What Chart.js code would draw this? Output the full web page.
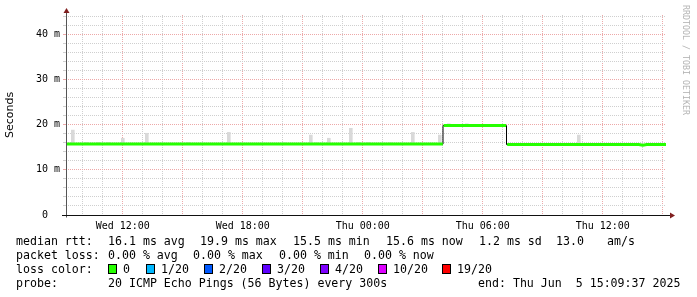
<!DOCTYPE html>
<html><head><meta charset="utf-8">
<script src="https://cdn.jsdelivr.net/npm/chart.js@4"></script>
<style>
html,body{margin:0;padding:0;background:#fff;}
#wrap{position:relative;width:697px;height:297px;overflow:hidden;background:#fff;}
canvas{position:absolute;left:0;top:0;}
.lg{position:absolute;font-family:"DejaVu Sans Mono",monospace;font-size:11.6px;line-height:14px;white-space:pre;color:#000;}
.sq{position:absolute;width:7px;height:8px;border:1px solid #000;}
#wm{position:absolute;left:631px;top:55px;width:110px;height:10px;line-height:10px;text-align:center;font-family:"DejaVu Sans Mono",monospace;font-size:8.3px;color:#b4b4b4;transform:rotate(90deg);transform-origin:50% 50%;white-space:pre;}
</style></head>
<body><div id="wrap"><canvas id="c" width="697" height="297"></canvas><div id="wm">RRDTOOL / TOBI OETIKER</div></div>
<script>
// x values are hours since Wed 00:00
const xMin = 9.16, xMax = 39.16;
const xTickHours = [12, 18, 24, 30, 36];
const xTickLabels = ['Wed 12:00', 'Wed 18:00', 'Thu 00:00', 'Thu 06:00', 'Thu 12:00'];
const yTickValues = [0, 10, 20, 30, 40];
const yTickLabels = ['0  ', '10 m', '20 m', '30 m', '40 m'];

// median rtt (ms) – green line, null = break at level changes
const medianTimes  = [9.16, 10, 11, 12, 13, 14, 15, 16, 17, 18, 19, 20, 21, 22, 23, 24, 25, 26, 27, 28.0, 28.005,
                      28.04, 29, 30, 31, 31.16, 31.19,
                      31.22, 32, 33, 34, 35, 36, 37, 37.8, 38.0, 38.2, 39.16];
const medianValues = [15.7, 15.7, 15.75, 15.7, 15.7, 15.7, 15.75, 15.7, 15.7, 15.7, 15.7, 15.7, 15.7, 15.7, 15.75, 15.7, 15.7, 15.7, 15.7, 15.7, null,
                      19.8, 19.8, 19.8, 19.8, 19.8, null,
                      15.6, 15.6, 15.6, 15.6, 15.6, 15.6, 15.6, 15.6, 15.45, 15.6, 15.6];

// level steps (black line)
const stepTimes  = [9.16, 28.01, 31.185, 39.16];
const stepValues = [15.7, 19.8, 15.6, 15.6];

// smoke (ping spread) – low / high in ms
const smokeTimes = [9.5, 10.2, 10.8, 11.3, 12.0, 13.2, 15.3, 17.3, 20.1, 21.4, 21.7, 22.3, 23.4, 23.8, 24.3, 25.4, 26.5, 27.85, 28.3, 29.2, 34.8];
const smokeLow   = [15.7, 15.7, 15.7, 15.7, 15.7, 15.7, 15.7, 15.7, 15.7, 15.7, 15.7, 15.7, 15.7, 15.7, 15.7, 15.7, 15.7, 15.7, 19.8, 19.8, 15.6];
const smokeHigh  = [18.8, 16.1, 16.1, 16.1, 17.0, 18.1, 16.1, 18.3, 16.0, 17.7, 16.0, 17.0, 19.2, 16.1, 16.1, 16.0, 18.3, 17.7, 20.2, 20.2, 17.7];

const lossLabels = ['0', '1/20', '2/20', '3/20', '4/20', '10/20', '19/20'];
const lossColors = ['#26ff00', '#00b8ff', '#0059ff', '#5e00ff', '#7e00ff', '#dd00ff', '#ff0000'];

const RED = '#eda8a8', GREY = '#cfcfcf';
const tickFont = {family: 'DejaVu Sans Mono', size: 10};

const axesPlugin = {
  id: 'axes',
  afterDraw(chart) {
    const {ctx, chartArea: a} = chart;
    const x0 = Math.round(a.left) + 0.5, y0 = Math.round(a.bottom) + 0.5;
    ctx.save();
    ctx.lineWidth = 1;
    ctx.strokeStyle = '#555';
    ctx.beginPath(); ctx.moveTo(x0, y0 + 2); ctx.lineTo(x0, a.top - 2); ctx.stroke();
    ctx.strokeStyle = '#111';
    ctx.beginPath(); ctx.moveTo(a.left - 4, y0); ctx.lineTo(a.right + 4, y0); ctx.stroke();
    ctx.fillStyle = '#801f1f';
    ctx.beginPath(); ctx.moveTo(x0 - 3, a.top - 2); ctx.lineTo(x0 + 3, a.top - 2); ctx.lineTo(x0, a.top - 7); ctx.closePath(); ctx.fill();
    ctx.beginPath(); ctx.moveTo(a.right + 4, y0 - 3); ctx.lineTo(a.right + 4, y0 + 3); ctx.lineTo(a.right + 9, y0); ctx.closePath(); ctx.fill();
    ctx.restore();
  }
};

new Chart(document.getElementById('c'), {
  type: 'bar',
  data: {
    datasets: [
      {
        type: 'line', order: 1,
        data: medianTimes.map((t, i) => ({x: t, y: medianValues[i]})),
        borderColor: '#26ff00', borderWidth: 3, pointRadius: 0, spanGaps: false, borderCapStyle: 'butt', tension: 0
      },
      {
        type: 'line', order: 2,
        data: stepTimes.map((t, i) => ({x: t, y: stepValues[i]})),
        borderColor: '#000', borderWidth: 1, pointRadius: 0, stepped: 'before'
      },
      {
        type: 'bar', order: 3,
        data: smokeTimes.map((t, i) => ({x: t, y: [smokeLow[i], smokeHigh[i]]})),
        backgroundColor: '#d9d9d9', borderWidth: 0, barThickness: 3, grouped: false
      }
    ]
  },
  options: {
    responsive: false, animation: false, devicePixelRatio: 1,
    layout: {padding: {top: 15, right: 31, left: 0, bottom: 0}},
    plugins: {legend: {display: false}, tooltip: {enabled: false}},
    scales: {
      x: {
        type: 'linear', min: xMin, max: xMax, offset: false,
        afterFit: s => { s.height = 82; },
        afterBuildTicks: s => { const t = []; for (let h = 10; h <= 39; h++) t.push({value: h}); s.ticks = t; },
        ticks: {autoSkip: false, maxRotation: 0, minRotation: 0, padding: 5, font: tickFont, color: '#000',
          callback: v => { const i = xTickHours.indexOf(v); return i >= 0 ? xTickLabels[i] : ''; }},
        grid: {offset: false, drawTicks: false, lineWidth: 1,
          color: c => (c.tick && c.tick.value % 3 === 0) ? RED : GREY},
        border: {display: false, dash: [1, 1]}
      },
      y: {
        type: 'linear', min: 0, max: 44.3,
        afterFit: s => { s.width = 66; },
        afterBuildTicks: s => { const t = []; for (let v = 0; v <= 44; v += 2) t.push({value: v}); s.ticks = t; },
        ticks: {autoSkip: false, padding: 3, font: tickFont, color: '#000',
          callback: v => { const i = yTickValues.indexOf(v); return i >= 0 ? yTickLabels[i] : ''; }},
        grid: {drawTicks: true, tickLength: 3, lineWidth: 1,
          color: c => (c.tick && c.tick.value % 10 === 0) ? RED : GREY,
          tickColor: c => (c.tick && c.tick.value % 10 === 0) ? RED : GREY},
        border: {display: false, dash: [1, 1]},
        title: {display: true, text: 'Seconds', color: '#000', font: {family: 'DejaVu Sans', size: 11}, padding: {top: 4, bottom: 0}}
      }
    }
  },
  plugins: [axesPlugin]
});

// legend text
const wrap = document.getElementById('wrap');
function txt(x, y, s) { const d = document.createElement('div'); d.className = 'lg'; d.style.left = x + 'px'; d.style.top = y + 'px'; d.textContent = s; wrap.appendChild(d); }
const rowTop = [234, 248, 262, 276];
txt(16, rowTop[0], 'median rtt:');
[[108, '16.1 ms avg'], [200, '19.9 ms max'], [293, '15.5 ms min'], [386, '15.6 ms now'], [479, '1.2 ms sd'], [556, '13.0'], [607, 'am/s']].forEach(p => txt(p[0], rowTop[0], p[1]));
txt(16, rowTop[1], 'packet loss:');
[[108, '0.00 % avg'], [193, '0.00 % max'], [279, '0.00 % min'], [364, '0.00 % now']].forEach(p => txt(p[0], rowTop[1], p[1]));
txt(16, rowTop[2], 'loss color:');
const sqX = [108, 146, 204, 262, 320, 378, 442];
lossLabels.forEach((l, i) => {
  const s = document.createElement('div'); s.className = 'sq'; s.style.left = sqX[i] + 'px'; s.style.top = (rowTop[2] + 2) + 'px'; s.style.background = lossColors[i]; wrap.appendChild(s);
  txt(sqX[i] + 15, rowTop[2], l);
});
txt(16, rowTop[3], 'probe:');
txt(108, rowTop[3], '20 ICMP Echo Pings (56 Bytes) every 300s');
txt(478, rowTop[3], 'end: Thu Jun  5 15:09:37 2025');
</script>
</body></html>
